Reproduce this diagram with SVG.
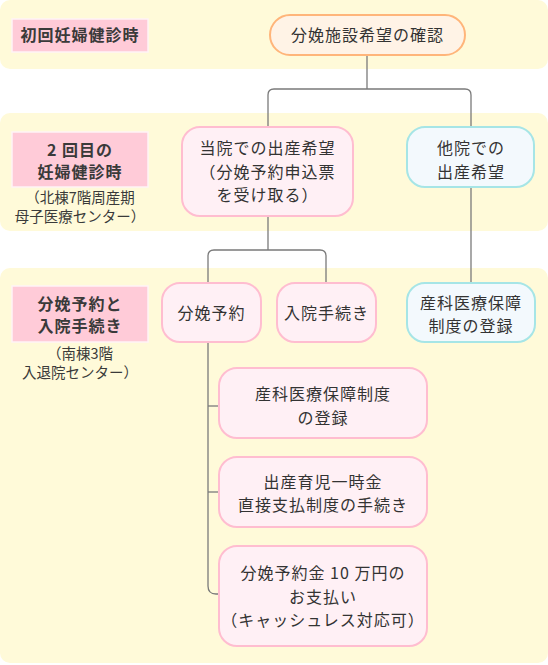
<svg xmlns="http://www.w3.org/2000/svg" width="548" height="665" viewBox="0 0 548 665">
<style>
.band{fill:#fffad9}
.lbl{fill:#ffcbd8;stroke:#fff3f6;stroke-width:1.5}
.lt{font-family:"Noto Sans CJK JP","Noto Sans",sans-serif;font-size:16px;font-weight:bold;fill:#3a3a3a;text-anchor:middle;letter-spacing:1px}
.st{font-family:"Noto Sans CJK JP","Noto Sans",sans-serif;font-size:14.5px;fill:#3a3a3a;text-anchor:middle}
.nt{font-family:"Noto Sans CJK JP","Noto Sans",sans-serif;font-size:16px;fill:#333;text-anchor:middle;letter-spacing:1px}
.pink{fill:#fff0f5;stroke:#ffbdd0;stroke-width:2}
.teal{fill:#f3f9fd;stroke:#a6e5e6;stroke-width:2}
.orange{fill:#fff3e6;stroke:#ffb57a;stroke-width:2}
.conn{fill:none;stroke:#7a7a7a;stroke-width:1.3}
</style>
<g id="bands">
<rect class="band" x="0" y="0" width="548" height="69" rx="10"/>
<rect class="band" x="0" y="113" width="548" height="118" rx="10"/>
<rect class="band" x="0" y="268" width="548" height="395" rx="10"/>
</g>
<g id="label1">
<rect class="lbl" x="12" y="19" width="136" height="33"/>
<text class="lt" x="80" y="41">初回妊婦健診時</text>
</g>
<g id="label2">
<rect class="lbl" x="12" y="132" width="136" height="55"/>
<text class="lt"><tspan x="80" y="156">2 回目の</tspan><tspan x="80" y="178">妊婦健診時</tspan></text>
<text class="st"><tspan x="80" y="203">（北棟7階周産期</tspan><tspan x="80" y="222">母子医療センター）</tspan></text>
</g>
<g id="label3">
<rect class="lbl" x="12" y="286" width="136" height="56"/>
<text class="lt"><tspan x="80" y="310">分娩予約と</tspan><tspan x="80" y="332">入院手続き</tspan></text>
<text class="st"><tspan x="80" y="359">（南棟3階</tspan><tspan x="80" y="378">入退院センター）</tspan></text>
</g>
<g id="connectors">
<path class="conn" d="M367,55 V89"/>
<path class="conn" d="M268,127 V95 Q268,89 274,89 H465 Q471,89 471,95 V127"/>
<path class="conn" d="M268,216 V250"/>
<path class="conn" d="M208,283 V256 Q208,250 214,250 H320 Q326,250 326,256 V283"/>
<path class="conn" d="M471,187 V283"/>
<path class="conn" d="M208,342 V586 Q208,594 216,594 H219"/>
<path class="conn" d="M208,406 H219"/>
<path class="conn" d="M208,492 H219"/>
</g>
<g id="node-check">
<rect class="orange" x="270" y="15" width="195" height="40" rx="20"/>
<text class="nt" x="367.5" y="41">分娩施設希望の確認</text>
</g>
<g id="node-here">
<rect class="pink" x="182" y="127" width="171" height="89" rx="18"/>
<text class="nt"><tspan x="267.5" y="154">当院での出産希望</tspan><tspan x="267.5" y="178">（分娩予約申込票</tspan><tspan x="267.5" y="201">を受け取る）</tspan></text>
</g>
<g id="node-other">
<rect class="teal" x="407" y="127" width="127" height="60" rx="18"/>
<text class="nt"><tspan x="471" y="154">他院での</tspan><tspan x="471" y="178">出産希望</tspan></text>
</g>
<g id="node-reserve">
<rect class="pink" x="162" y="283" width="99" height="59" rx="18"/>
<text class="nt" x="211.5" y="319">分娩予約</text>
</g>
<g id="node-admit">
<rect class="pink" x="277" y="283" width="99" height="59" rx="18"/>
<text class="nt" x="326.5" y="319">入院手続き</text>
</g>
<g id="node-insurance-other">
<rect class="teal" x="407" y="283" width="128" height="59" rx="18"/>
<text class="nt"><tspan x="471" y="309">産科医療保障</tspan><tspan x="471" y="332">制度の登録</tspan></text>
</g>
<g id="node-insurance">
<rect class="pink" x="219" y="368" width="208" height="70" rx="18"/>
<text class="nt"><tspan x="323" y="400">産科医療保障制度</tspan><tspan x="323" y="424">の登録</tspan></text>
</g>
<g id="node-lumpsum">
<rect class="pink" x="219" y="457" width="208" height="70" rx="18"/>
<text class="nt"><tspan x="323" y="488">出産育児一時金</tspan><tspan x="323" y="511">直接支払制度の手続き</tspan></text>
</g>
<g id="node-deposit">
<rect class="pink" x="219" y="546" width="208" height="100" rx="18"/>
<text class="nt"><tspan x="323" y="579">分娩予約金 10 万円の</tspan><tspan x="323" y="603">お支払い</tspan><tspan x="323" y="626">（キャッシュレス対応可）</tspan></text>
</g>
</svg>
